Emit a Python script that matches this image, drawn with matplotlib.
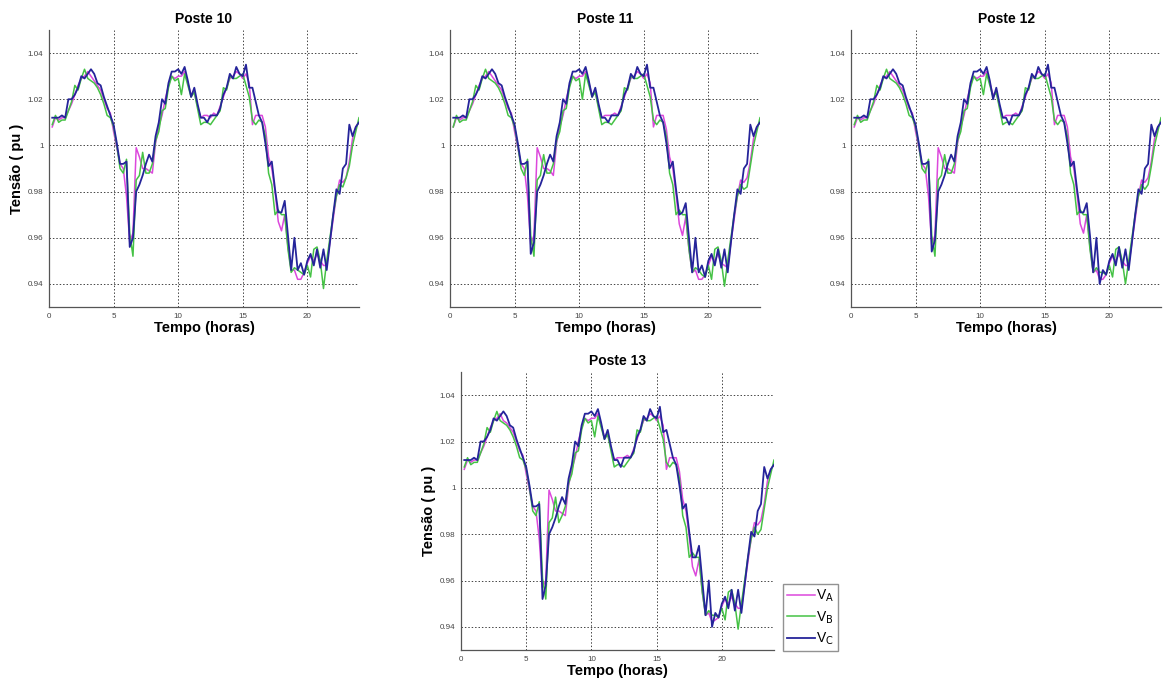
import numpy as np
import matplotlib
matplotlib.use("Agg")
import matplotlib.pyplot as plt

plt.rcParams['font.family'] = ['Liberation Sans', 'DejaVu Sans']

# time axis: one sample every 15 min
hours = np.arange(1, 97) * 0.25

# Poste 10
va_10 = [1.008, 1.012, 1.011, 1.012, 1.012, 1.015, 1.018, 1.022,
         1.026, 1.029, 1.030, 1.032, 1.030, 1.028, 1.026, 1.024,
         1.020, 1.016, 1.014, 1.006, 0.999, 0.992, 0.990, 0.978,
         0.958, 0.962, 0.999, 0.995, 0.990, 0.990, 0.989, 0.988,
         1.001, 1.008, 1.013, 1.020, 1.026, 1.030, 1.029, 1.030,
         1.030, 1.032, 1.027, 1.022, 1.023, 1.017, 1.012, 1.013,
         1.013, 1.012, 1.014, 1.013, 1.017, 1.021, 1.025, 1.029,
         1.030, 1.032, 1.031, 1.029, 1.031, 1.027, 1.009, 1.013,
         1.013, 1.013, 1.008, 0.995, 0.990, 0.980, 0.967, 0.963,
         0.970, 0.956, 0.946, 0.946, 0.942, 0.942, 0.945, 0.949,
         0.952, 0.950, 0.953, 0.950, 0.948, 0.948, 0.958, 0.968,
         0.978, 0.985, 0.984, 0.986, 0.993, 1.003, 1.008, 1.010]
vb_10 = [1.009, 1.013, 1.010, 1.011, 1.011, 1.015, 1.019, 1.026,
         1.024, 1.029, 1.033, 1.029, 1.028, 1.027, 1.025, 1.022,
         1.018, 1.013, 1.012, 1.008, 1.000, 0.990, 0.988, 0.994,
         0.962, 0.952, 0.985, 0.987, 0.997, 0.988, 0.988, 0.992,
         1.002, 1.006, 1.015, 1.016, 1.025, 1.030, 1.028, 1.029,
         1.022, 1.031, 1.026, 1.021, 1.023, 1.016, 1.009, 1.010,
         1.010, 1.009, 1.011, 1.013, 1.015, 1.025, 1.024, 1.030,
         1.029, 1.029, 1.030, 1.031, 1.026, 1.021, 1.011, 1.009,
         1.011, 1.010, 1.004, 0.988, 0.983, 0.970, 0.972, 0.970,
         0.970, 0.955, 0.945, 0.947, 0.946, 0.945, 0.944, 0.948,
         0.943, 0.955, 0.956, 0.950, 0.938, 0.950, 0.960, 0.970,
         0.978, 0.983, 0.982, 0.986, 0.991, 1.000, 1.006, 1.012]
vc_10 = [1.012, 1.012, 1.012, 1.013, 1.012, 1.020, 1.020, 1.022,
         1.025, 1.030, 1.029, 1.031, 1.033, 1.031, 1.027, 1.026,
         1.021, 1.017, 1.013, 1.009, 1.001, 0.992, 0.992, 0.993,
         0.956, 0.960, 0.980, 0.983, 0.987, 0.992, 0.996, 0.993,
         1.004, 1.010, 1.020, 1.018, 1.027, 1.032, 1.032, 1.033,
         1.031, 1.034, 1.028, 1.021, 1.025, 1.018, 1.012, 1.012,
         1.010, 1.013, 1.013, 1.013, 1.016, 1.022, 1.025, 1.031,
         1.029, 1.034, 1.031, 1.030, 1.035, 1.025, 1.025, 1.019,
         1.013, 1.010, 1.001, 0.991, 0.993, 0.981, 0.971, 0.971,
         0.976, 0.961, 0.946, 0.960, 0.946, 0.949, 0.944, 0.950,
         0.953, 0.948, 0.955, 0.947, 0.955, 0.946, 0.958, 0.970,
         0.981, 0.979, 0.990, 0.992, 1.009, 1.004, 1.008, 1.010]

# Poste 11
va_11 = [1.008, 1.012, 1.011, 1.012, 1.012, 1.015, 1.018, 1.022,
         1.026, 1.029, 1.030, 1.032, 1.030, 1.028, 1.026, 1.024,
         1.020, 1.016, 1.014, 1.006, 0.999, 0.992, 0.990, 0.978,
         0.957, 0.961, 0.999, 0.995, 0.990, 0.990, 0.989, 0.987,
         1.001, 1.008, 1.013, 1.020, 1.026, 1.030, 1.029, 1.030,
         1.030, 1.032, 1.027, 1.022, 1.023, 1.017, 1.012, 1.013,
         1.013, 1.013, 1.014, 1.013, 1.017, 1.021, 1.025, 1.029,
         1.030, 1.032, 1.031, 1.029, 1.031, 1.027, 1.008, 1.013,
         1.013, 1.013, 1.007, 0.995, 0.990, 0.979, 0.966, 0.961,
         0.969, 0.955, 0.945, 0.946, 0.942, 0.942, 0.944, 0.948,
         0.952, 0.950, 0.953, 0.949, 0.948, 0.947, 0.958, 0.968,
         0.978, 0.985, 0.984, 0.986, 0.993, 1.003, 1.008, 1.010]
vb_11 = [1.008, 1.013, 1.010, 1.011, 1.011, 1.015, 1.019, 1.026,
         1.024, 1.029, 1.033, 1.029, 1.028, 1.027, 1.025, 1.022,
         1.018, 1.013, 1.012, 1.008, 1.000, 0.990, 0.987, 0.994,
         0.961, 0.952, 0.985, 0.987, 0.996, 0.988, 0.988, 0.992,
         1.002, 1.006, 1.015, 1.016, 1.025, 1.030, 1.028, 1.029,
         1.020, 1.031, 1.026, 1.021, 1.023, 1.016, 1.009, 1.010,
         1.010, 1.009, 1.011, 1.013, 1.015, 1.025, 1.024, 1.030,
         1.029, 1.029, 1.030, 1.031, 1.026, 1.021, 1.011, 1.009,
         1.011, 1.010, 1.004, 0.988, 0.983, 0.970, 0.972, 0.970,
         0.970, 0.955, 0.945, 0.947, 0.946, 0.944, 0.943, 0.948,
         0.942, 0.955, 0.956, 0.950, 0.939, 0.950, 0.960, 0.970,
         0.978, 0.983, 0.981, 0.982, 0.991, 1.000, 1.006, 1.012]
vc_11 = [1.012, 1.012, 1.012, 1.013, 1.012, 1.020, 1.020, 1.022,
         1.025, 1.030, 1.029, 1.031, 1.033, 1.031, 1.027, 1.026,
         1.021, 1.017, 1.013, 1.009, 1.001, 0.992, 0.992, 0.993,
         0.953, 0.958, 0.980, 0.983, 0.987, 0.992, 0.996, 0.993,
         1.004, 1.010, 1.020, 1.018, 1.027, 1.032, 1.032, 1.033,
         1.031, 1.034, 1.028, 1.021, 1.025, 1.018, 1.012, 1.012,
         1.010, 1.013, 1.013, 1.013, 1.016, 1.022, 1.025, 1.031,
         1.029, 1.034, 1.031, 1.030, 1.035, 1.025, 1.025, 1.019,
         1.013, 1.010, 1.001, 0.990, 0.993, 0.981, 0.970, 0.971,
         0.975, 0.960, 0.945, 0.960, 0.945, 0.948, 0.943, 0.950,
         0.953, 0.948, 0.955, 0.947, 0.955, 0.945, 0.958, 0.970,
         0.981, 0.979, 0.990, 0.992, 1.009, 1.004, 1.008, 1.010]

# Poste 12
va_12 = [1.008, 1.012, 1.011, 1.012, 1.012, 1.015, 1.018, 1.022,
         1.026, 1.029, 1.030, 1.032, 1.030, 1.028, 1.026, 1.024,
         1.020, 1.016, 1.014, 1.006, 0.999, 0.992, 0.990, 0.978,
         0.957, 0.961, 0.999, 0.995, 0.990, 0.990, 0.989, 0.988,
         1.001, 1.008, 1.013, 1.020, 1.026, 1.030, 1.029, 1.030,
         1.030, 1.032, 1.027, 1.022, 1.023, 1.017, 1.012, 1.013,
         1.013, 1.013, 1.014, 1.013, 1.017, 1.021, 1.025, 1.029,
         1.030, 1.032, 1.031, 1.029, 1.031, 1.027, 1.009, 1.013,
         1.013, 1.013, 1.008, 0.995, 0.990, 0.979, 0.966, 0.962,
         0.970, 0.956, 0.945, 0.946, 0.942, 0.942, 0.944, 0.949,
         0.952, 0.950, 0.953, 0.950, 0.948, 0.948, 0.958, 0.968,
         0.978, 0.985, 0.984, 0.986, 0.993, 1.003, 1.008, 1.010]
vb_12 = [1.009, 1.013, 1.010, 1.011, 1.011, 1.015, 1.019, 1.026,
         1.024, 1.029, 1.033, 1.029, 1.028, 1.027, 1.025, 1.022,
         1.018, 1.013, 1.012, 1.008, 1.000, 0.990, 0.988, 0.994,
         0.961, 0.952, 0.985, 0.987, 0.996, 0.988, 0.988, 0.992,
         1.002, 1.006, 1.015, 1.016, 1.025, 1.030, 1.028, 1.029,
         1.022, 1.031, 1.026, 1.021, 1.023, 1.016, 1.009, 1.010,
         1.010, 1.009, 1.011, 1.013, 1.015, 1.025, 1.024, 1.030,
         1.029, 1.029, 1.030, 1.031, 1.026, 1.021, 1.011, 1.009,
         1.011, 1.010, 1.004, 0.988, 0.983, 0.970, 0.972, 0.970,
         0.970, 0.955, 0.945, 0.947, 0.945, 0.945, 0.944, 0.948,
         0.943, 0.955, 0.956, 0.950, 0.940, 0.950, 0.960, 0.970,
         0.978, 0.983, 0.981, 0.983, 0.991, 1.000, 1.006, 1.012]
vc_12 = [1.012, 1.012, 1.012, 1.013, 1.012, 1.020, 1.020, 1.022,
         1.025, 1.030, 1.029, 1.031, 1.033, 1.031, 1.027, 1.026,
         1.021, 1.017, 1.013, 1.009, 1.001, 0.992, 0.992, 0.993,
         0.954, 0.959, 0.980, 0.983, 0.987, 0.992, 0.996, 0.993,
         1.004, 1.010, 1.020, 1.018, 1.027, 1.032, 1.032, 1.033,
         1.031, 1.034, 1.028, 1.020, 1.025, 1.018, 1.012, 1.012,
         1.009, 1.013, 1.013, 1.013, 1.016, 1.022, 1.025, 1.031,
         1.029, 1.034, 1.031, 1.030, 1.035, 1.025, 1.025, 1.019,
         1.013, 1.010, 1.001, 0.991, 0.993, 0.981, 0.971, 0.971,
         0.975, 0.961, 0.945, 0.960, 0.940, 0.946, 0.944, 0.950,
         0.953, 0.948, 0.956, 0.947, 0.955, 0.946, 0.958, 0.970,
         0.981, 0.979, 0.990, 0.992, 1.009, 1.004, 1.008, 1.010]

# Poste 13
va_13 = [1.008, 1.012, 1.011, 1.012, 1.012, 1.015, 1.018, 1.022,
         1.026, 1.029, 1.030, 1.032, 1.029, 1.028, 1.026, 1.024,
         1.020, 1.016, 1.014, 1.006, 0.999, 0.992, 0.990, 0.978,
         0.957, 0.960, 0.999, 0.995, 0.990, 0.990, 0.989, 0.988,
         1.001, 1.008, 1.013, 1.020, 1.026, 1.030, 1.029, 1.030,
         1.030, 1.032, 1.027, 1.022, 1.023, 1.017, 1.012, 1.013,
         1.013, 1.013, 1.014, 1.013, 1.017, 1.021, 1.025, 1.029,
         1.030, 1.032, 1.031, 1.029, 1.031, 1.027, 1.008, 1.013,
         1.013, 1.013, 1.007, 0.995, 0.990, 0.979, 0.966, 0.962,
         0.969, 0.955, 0.945, 0.946, 0.942, 0.943, 0.944, 0.949,
         0.952, 0.950, 0.953, 0.950, 0.948, 0.948, 0.958, 0.968,
         0.978, 0.985, 0.984, 0.986, 0.993, 1.003, 1.008, 1.010]
vb_13 = [1.009, 1.013, 1.010, 1.011, 1.011, 1.015, 1.019, 1.026,
         1.024, 1.029, 1.033, 1.029, 1.028, 1.027, 1.025, 1.022,
         1.018, 1.013, 1.012, 1.008, 1.000, 0.990, 0.988, 0.994,
         0.961, 0.952, 0.985, 0.987, 0.996, 0.985, 0.988, 0.992,
         1.002, 1.006, 1.015, 1.016, 1.025, 1.030, 1.028, 1.029,
         1.022, 1.031, 1.026, 1.021, 1.023, 1.016, 1.009, 1.010,
         1.010, 1.009, 1.011, 1.013, 1.015, 1.025, 1.024, 1.030,
         1.029, 1.029, 1.030, 1.031, 1.026, 1.021, 1.011, 1.009,
         1.011, 1.010, 1.004, 0.988, 0.983, 0.970, 0.972, 0.970,
         0.970, 0.955, 0.945, 0.947, 0.945, 0.945, 0.944, 0.948,
         0.943, 0.955, 0.956, 0.950, 0.939, 0.950, 0.960, 0.970,
         0.978, 0.983, 0.980, 0.982, 0.991, 1.000, 1.006, 1.012]
vc_13 = [1.012, 1.012, 1.012, 1.013, 1.012, 1.020, 1.020, 1.022,
         1.025, 1.030, 1.029, 1.031, 1.033, 1.031, 1.027, 1.026,
         1.021, 1.017, 1.013, 1.009, 1.001, 0.992, 0.992, 0.993,
         0.952, 0.958, 0.980, 0.983, 0.987, 0.992, 0.996, 0.993,
         1.004, 1.010, 1.020, 1.018, 1.027, 1.032, 1.032, 1.033,
         1.031, 1.034, 1.028, 1.021, 1.025, 1.018, 1.012, 1.012,
         1.009, 1.013, 1.013, 1.013, 1.016, 1.022, 1.025, 1.031,
         1.029, 1.034, 1.031, 1.030, 1.035, 1.024, 1.025, 1.019,
         1.013, 1.010, 1.001, 0.991, 0.993, 0.981, 0.970, 0.970,
         0.975, 0.960, 0.945, 0.960, 0.940, 0.946, 0.944, 0.950,
         0.953, 0.948, 0.956, 0.947, 0.956, 0.946, 0.958, 0.970,
         0.981, 0.979, 0.990, 0.993, 1.009, 1.004, 1.008, 1.010]

titles = ["Poste 10", "Poste 11", "Poste 12", "Poste 13"]
series = [(va_10, vb_10, vc_10), (va_11, vb_11, vc_11),
          (va_12, vb_12, vc_12), (va_13, vb_13, vc_13)]
phase_labels = [r'V$_{\rm A}$', r'V$_{\rm B}$', r'V$_{\rm C}$']
phase_colors = ['#dc48dc', '#45c245', '#25249a']
phase_widths = [1.1, 1.1, 1.3]
x_ticks = [0, 5, 10, 15, 20]
y_ticks = [0.94, 0.96, 0.98, 1.00, 1.02, 1.04]
y_tick_labels = ['0.94', '0.96', '0.98', '1', '1.02', '1.04']

W, H = 1163, 681
fig = plt.figure(figsize=(W / 100, H / 100), dpi=100, facecolor='white')

# axes boxes in pixels: left, top, right, bottom
boxes = [(49, 30, 359, 307), (450, 30, 760, 307),
         (851, 30, 1161, 307), (461, 372, 774, 650)]

lines = []
for k, (l, t, r, b) in enumerate(boxes):
    ax = fig.add_axes([l / W, 1 - b / H, (r - l) / W, (b - t) / H])
    lines = []
    for vals, col, lw, lab in zip(series[k], phase_colors, phase_widths, phase_labels):
        ln, = ax.plot(hours, vals, color=col, linewidth=lw, label=lab)
        lines.append(ln)
    ax.set_xlim(0, 24)
    ax.set_ylim(0.93, 1.05)
    ax.set_xticks(x_ticks)
    ax.set_yticks(y_ticks)
    ax.set_yticklabels(y_tick_labels)
    ax.tick_params(labelsize=5.8, labelcolor='#444444', length=0, pad=4)
    ax.grid(True, linestyle=(0, (1.5, 2)), color='#444444', linewidth=0.7)
    for s in ['top', 'right']:
        ax.spines[s].set_visible(False)
    for s in ['left', 'bottom']:
        ax.spines[s].set_color('#555555')
        ax.spines[s].set_linewidth(0.9)
    ax.set_title(titles[k], fontsize=10, fontweight='bold', pad=5)
    ax.set_xlabel('Tempo (horas)', fontsize=10.5, fontweight='bold', labelpad=1)
    if k in (0, 3):
        ax.set_ylabel('Tensão ( pu )', fontsize=10.5, fontweight='bold', labelpad=3)

fig.legend(lines, phase_labels, loc='lower left',
           bbox_to_anchor=(783 / W, 1 - 651 / H), fontsize=10,
           frameon=True, fancybox=False, edgecolor='#777777',
           handlelength=2.0, handletextpad=0.1, borderpad=0.3,
           labelspacing=0.35, borderaxespad=0)

fig.savefig('out.png', dpi=100, facecolor='white')
